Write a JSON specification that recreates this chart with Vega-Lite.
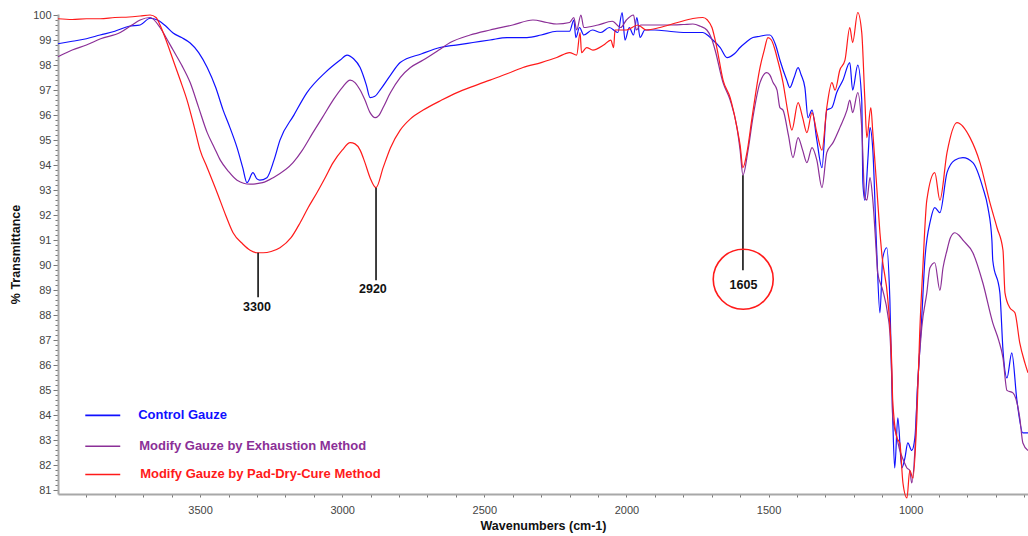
{
  "$schema": "https://vega.github.io/schema/vega-lite/v6.json",
  "width": 970,
  "height": 480,
  "autosize": {"type": "none"},
  "padding": {"left": 58, "top": 14, "right": 0, "bottom": 42},
  "background": "white",
  "config": {
    "view": {"stroke": null},
    "font": "Liberation Sans",
    "axis": {"grid": false, "labelFont": "Liberation Sans", "titleFont": "Liberation Sans", "labelColor": "#444", "titleColor": "#111", "domainColor": "#a8a8a8", "domainWidth": 2, "tickColor": "#777", "labelFontSize": 11, "titleFontSize": 12.5, "titleFontWeight": "bold"}
  },
  "datasets": {
    "spectra": [
      {"series": "Control", "wn": 4000, "T": 98.85}, {"series": "Control", "wn": 3950, "T": 98.95}, {"series": "Control", "wn": 3900, "T": 99.05}, {"series": "Control", "wn": 3852, "T": 99.2}, {"series": "Control", "wn": 3800, "T": 99.35}, {"series": "Control", "wn": 3750, "T": 99.55}, {"series": "Control", "wn": 3711, "T": 99.6}, {"series": "Control", "wn": 3676, "T": 99.87}, {"series": "Control", "wn": 3650, "T": 99.8}, {"series": "Control", "wn": 3620, "T": 99.55}, {"series": "Control", "wn": 3595, "T": 99.28}, {"series": "Control", "wn": 3565, "T": 99.1}, {"series": "Control", "wn": 3535, "T": 98.88}, {"series": "Control", "wn": 3505, "T": 98.5}, {"series": "Control", "wn": 3475, "T": 97.9}, {"series": "Control", "wn": 3445, "T": 97.1}, {"series": "Control", "wn": 3419, "T": 96.2}, {"series": "Control", "wn": 3395, "T": 95.5}, {"series": "Control", "wn": 3370, "T": 94.7}, {"series": "Control", "wn": 3350, "T": 93.9}, {"series": "Control", "wn": 3335, "T": 93.3}, {"series": "Control", "wn": 3314, "T": 93.7}, {"series": "Control", "wn": 3300, "T": 93.45}, {"series": "Control", "wn": 3290, "T": 93.4}, {"series": "Control", "wn": 3265, "T": 93.5}, {"series": "Control", "wn": 3240, "T": 94.2}, {"series": "Control", "wn": 3219, "T": 95.0}, {"series": "Control", "wn": 3170, "T": 96.0}, {"series": "Control", "wn": 3124, "T": 96.9}, {"series": "Control", "wn": 3060, "T": 97.7}, {"series": "Control", "wn": 3007, "T": 98.2}, {"series": "Control", "wn": 2983, "T": 98.4}, {"series": "Control", "wn": 2960, "T": 98.25}, {"series": "Control", "wn": 2937, "T": 97.9}, {"series": "Control", "wn": 2915, "T": 97.2}, {"series": "Control", "wn": 2902, "T": 96.7}, {"series": "Control", "wn": 2885, "T": 96.75}, {"series": "Control", "wn": 2867, "T": 97.0}, {"series": "Control", "wn": 2830, "T": 97.6}, {"series": "Control", "wn": 2796, "T": 98.1}, {"series": "Control", "wn": 2720, "T": 98.45}, {"series": "Control", "wn": 2656, "T": 98.7}, {"series": "Control", "wn": 2600, "T": 98.8}, {"series": "Control", "wn": 2540, "T": 98.9}, {"series": "Control", "wn": 2480, "T": 99.0}, {"series": "Control", "wn": 2420, "T": 99.1}, {"series": "Control", "wn": 2350, "T": 99.1}, {"series": "Control", "wn": 2300, "T": 99.2}, {"series": "Control", "wn": 2245, "T": 99.35}, {"series": "Control", "wn": 2200, "T": 99.35}, {"series": "Control", "wn": 2185, "T": 99.8}, {"series": "Control", "wn": 2178, "T": 99.1}, {"series": "Control", "wn": 2165, "T": 99.5}, {"series": "Control", "wn": 2150, "T": 99.2}, {"series": "Control", "wn": 2120, "T": 99.4}, {"series": "Control", "wn": 2090, "T": 99.3}, {"series": "Control", "wn": 2060, "T": 99.5}, {"series": "Control", "wn": 2030, "T": 99.3}, {"series": "Control", "wn": 2015, "T": 100.1}, {"series": "Control", "wn": 2005, "T": 99.0}, {"series": "Control", "wn": 1990, "T": 99.5}, {"series": "Control", "wn": 1975, "T": 99.2}, {"series": "Control", "wn": 1963, "T": 99.9}, {"series": "Control", "wn": 1952, "T": 99.1}, {"series": "Control", "wn": 1935, "T": 99.4}, {"series": "Control", "wn": 1900, "T": 99.4}, {"series": "Control", "wn": 1850, "T": 99.35}, {"series": "Control", "wn": 1800, "T": 99.3}, {"series": "Control", "wn": 1760, "T": 99.3}, {"series": "Control", "wn": 1731, "T": 99.3}, {"series": "Control", "wn": 1710, "T": 99.15}, {"series": "Control", "wn": 1696, "T": 99.0}, {"series": "Control", "wn": 1670, "T": 98.7}, {"series": "Control", "wn": 1646, "T": 98.3}, {"series": "Control", "wn": 1620, "T": 98.45}, {"series": "Control", "wn": 1600, "T": 98.7}, {"series": "Control", "wn": 1580, "T": 98.9}, {"series": "Control", "wn": 1555, "T": 99.1}, {"series": "Control", "wn": 1530, "T": 99.15}, {"series": "Control", "wn": 1506, "T": 99.2}, {"series": "Control", "wn": 1495, "T": 99.2}, {"series": "Control", "wn": 1475, "T": 98.8}, {"series": "Control", "wn": 1460, "T": 98.2}, {"series": "Control", "wn": 1436, "T": 97.4}, {"series": "Control", "wn": 1425, "T": 97.1}, {"series": "Control", "wn": 1410, "T": 97.5}, {"series": "Control", "wn": 1396, "T": 97.9}, {"series": "Control", "wn": 1385, "T": 97.6}, {"series": "Control", "wn": 1372, "T": 97.1}, {"series": "Control", "wn": 1361, "T": 95.9}, {"series": "Control", "wn": 1347, "T": 96.2}, {"series": "Control", "wn": 1330, "T": 95.0}, {"series": "Control", "wn": 1312, "T": 93.9}, {"series": "Control", "wn": 1295, "T": 96.2}, {"series": "Control", "wn": 1277, "T": 96.3}, {"series": "Control", "wn": 1260, "T": 96.9}, {"series": "Control", "wn": 1238, "T": 97.4}, {"series": "Control", "wn": 1214, "T": 98.1}, {"series": "Control", "wn": 1204, "T": 97.0}, {"series": "Control", "wn": 1186, "T": 98.0}, {"series": "Control", "wn": 1172, "T": 96.6}, {"series": "Control", "wn": 1168, "T": 93.3}, {"series": "Control", "wn": 1161, "T": 92.6}, {"series": "Control", "wn": 1150, "T": 94.3}, {"series": "Control", "wn": 1143, "T": 95.5}, {"series": "Control", "wn": 1133, "T": 94.6}, {"series": "Control", "wn": 1119, "T": 90.5}, {"series": "Control", "wn": 1108, "T": 88.1}, {"series": "Control", "wn": 1098, "T": 90.3}, {"series": "Control", "wn": 1084, "T": 90.7}, {"series": "Control", "wn": 1073, "T": 88.6}, {"series": "Control", "wn": 1063, "T": 83.9}, {"series": "Control", "wn": 1056, "T": 81.9}, {"series": "Control", "wn": 1045, "T": 83.9}, {"series": "Control", "wn": 1031, "T": 81.9}, {"series": "Control", "wn": 1020, "T": 82.3}, {"series": "Control", "wn": 1010, "T": 82.9}, {"series": "Control", "wn": 996, "T": 82.6}, {"series": "Control", "wn": 985, "T": 83.1}, {"series": "Control", "wn": 975, "T": 85.3}, {"series": "Control", "wn": 961, "T": 87.9}, {"series": "Control", "wn": 950, "T": 90.2}, {"series": "Control", "wn": 930, "T": 91.8}, {"series": "Control", "wn": 915, "T": 92.3}, {"series": "Control", "wn": 897, "T": 92.1}, {"series": "Control", "wn": 872, "T": 93.7}, {"series": "Control", "wn": 845, "T": 94.2}, {"series": "Control", "wn": 816, "T": 94.3}, {"series": "Control", "wn": 781, "T": 94.1}, {"series": "Control", "wn": 746, "T": 93.1}, {"series": "Control", "wn": 728, "T": 92.3}, {"series": "Control", "wn": 714, "T": 91.0}, {"series": "Control", "wn": 711, "T": 90.2}, {"series": "Control", "wn": 686, "T": 88.9}, {"series": "Control", "wn": 675, "T": 86.6}, {"series": "Control", "wn": 661, "T": 85.5}, {"series": "Control", "wn": 644, "T": 86.5}, {"series": "Control", "wn": 626, "T": 84.6}, {"series": "Control", "wn": 605, "T": 83.3}, {"series": "Control", "wn": 587, "T": 83.3},

      {"series": "Exhaustion", "wn": 4000, "T": 98.33}, {"series": "Exhaustion", "wn": 3950, "T": 98.6}, {"series": "Exhaustion", "wn": 3900, "T": 98.8}, {"series": "Exhaustion", "wn": 3850, "T": 99.05}, {"series": "Exhaustion", "wn": 3781, "T": 99.3}, {"series": "Exhaustion", "wn": 3740, "T": 99.6}, {"series": "Exhaustion", "wn": 3711, "T": 99.8}, {"series": "Exhaustion", "wn": 3676, "T": 99.9}, {"series": "Exhaustion", "wn": 3641, "T": 99.5}, {"series": "Exhaustion", "wn": 3620, "T": 99.1}, {"series": "Exhaustion", "wn": 3595, "T": 98.6}, {"series": "Exhaustion", "wn": 3565, "T": 98.0}, {"series": "Exhaustion", "wn": 3535, "T": 97.3}, {"series": "Exhaustion", "wn": 3505, "T": 96.3}, {"series": "Exhaustion", "wn": 3475, "T": 95.3}, {"series": "Exhaustion", "wn": 3450, "T": 94.7}, {"series": "Exhaustion", "wn": 3429, "T": 94.2}, {"series": "Exhaustion", "wn": 3400, "T": 93.75}, {"series": "Exhaustion", "wn": 3370, "T": 93.4}, {"series": "Exhaustion", "wn": 3324, "T": 93.24}, {"series": "Exhaustion", "wn": 3280, "T": 93.3}, {"series": "Exhaustion", "wn": 3243, "T": 93.5}, {"series": "Exhaustion", "wn": 3173, "T": 94.1}, {"series": "Exhaustion", "wn": 3140, "T": 94.6}, {"series": "Exhaustion", "wn": 3103, "T": 95.3}, {"series": "Exhaustion", "wn": 3070, "T": 95.9}, {"series": "Exhaustion", "wn": 3032, "T": 96.6}, {"series": "Exhaustion", "wn": 3000, "T": 97.1}, {"series": "Exhaustion", "wn": 2972, "T": 97.4}, {"series": "Exhaustion", "wn": 2955, "T": 97.3}, {"series": "Exhaustion", "wn": 2937, "T": 97.0}, {"series": "Exhaustion", "wn": 2920, "T": 96.6}, {"series": "Exhaustion", "wn": 2902, "T": 96.1}, {"series": "Exhaustion", "wn": 2884, "T": 95.9}, {"series": "Exhaustion", "wn": 2870, "T": 96.0}, {"series": "Exhaustion", "wn": 2856, "T": 96.3}, {"series": "Exhaustion", "wn": 2830, "T": 96.9}, {"series": "Exhaustion", "wn": 2796, "T": 97.5}, {"series": "Exhaustion", "wn": 2760, "T": 97.9}, {"series": "Exhaustion", "wn": 2715, "T": 98.2}, {"series": "Exhaustion", "wn": 2660, "T": 98.6}, {"series": "Exhaustion", "wn": 2620, "T": 98.9}, {"series": "Exhaustion", "wn": 2550, "T": 99.2}, {"series": "Exhaustion", "wn": 2480, "T": 99.4}, {"series": "Exhaustion", "wn": 2400, "T": 99.6}, {"series": "Exhaustion", "wn": 2329, "T": 99.8}, {"series": "Exhaustion", "wn": 2280, "T": 99.7}, {"series": "Exhaustion", "wn": 2245, "T": 99.64}, {"series": "Exhaustion", "wn": 2200, "T": 99.7}, {"series": "Exhaustion", "wn": 2185, "T": 99.9}, {"series": "Exhaustion", "wn": 2175, "T": 99.4}, {"series": "Exhaustion", "wn": 2160, "T": 100.0}, {"series": "Exhaustion", "wn": 2150, "T": 99.5}, {"series": "Exhaustion", "wn": 2100, "T": 99.6}, {"series": "Exhaustion", "wn": 2050, "T": 99.75}, {"series": "Exhaustion", "wn": 2020, "T": 99.5}, {"series": "Exhaustion", "wn": 2000, "T": 99.8}, {"series": "Exhaustion", "wn": 1975, "T": 100.0}, {"series": "Exhaustion", "wn": 1965, "T": 99.4}, {"series": "Exhaustion", "wn": 1950, "T": 99.6}, {"series": "Exhaustion", "wn": 1900, "T": 99.6}, {"series": "Exhaustion", "wn": 1850, "T": 99.6}, {"series": "Exhaustion", "wn": 1800, "T": 99.62}, {"series": "Exhaustion", "wn": 1766, "T": 99.64}, {"series": "Exhaustion", "wn": 1740, "T": 99.55}, {"series": "Exhaustion", "wn": 1717, "T": 99.4}, {"series": "Exhaustion", "wn": 1700, "T": 99.05}, {"series": "Exhaustion", "wn": 1688, "T": 98.6}, {"series": "Exhaustion", "wn": 1660, "T": 97.3}, {"series": "Exhaustion", "wn": 1635, "T": 96.6}, {"series": "Exhaustion", "wn": 1611, "T": 95.5}, {"series": "Exhaustion", "wn": 1600, "T": 94.6}, {"series": "Exhaustion", "wn": 1590, "T": 93.6}, {"series": "Exhaustion", "wn": 1572, "T": 94.6}, {"series": "Exhaustion", "wn": 1555, "T": 95.9}, {"series": "Exhaustion", "wn": 1530, "T": 97.3}, {"series": "Exhaustion", "wn": 1506, "T": 97.7}, {"series": "Exhaustion", "wn": 1495, "T": 97.6}, {"series": "Exhaustion", "wn": 1484, "T": 97.3}, {"series": "Exhaustion", "wn": 1470, "T": 97.0}, {"series": "Exhaustion", "wn": 1460, "T": 96.3}, {"series": "Exhaustion", "wn": 1449, "T": 96.2}, {"series": "Exhaustion", "wn": 1430, "T": 95.2}, {"series": "Exhaustion", "wn": 1414, "T": 94.3}, {"series": "Exhaustion", "wn": 1396, "T": 95.1}, {"series": "Exhaustion", "wn": 1380, "T": 94.6}, {"series": "Exhaustion", "wn": 1365, "T": 94.1}, {"series": "Exhaustion", "wn": 1347, "T": 94.7}, {"series": "Exhaustion", "wn": 1330, "T": 94.2}, {"series": "Exhaustion", "wn": 1312, "T": 93.1}, {"series": "Exhaustion", "wn": 1295, "T": 94.5}, {"series": "Exhaustion", "wn": 1273, "T": 94.9}, {"series": "Exhaustion", "wn": 1249, "T": 95.5}, {"series": "Exhaustion", "wn": 1224, "T": 96.2}, {"series": "Exhaustion", "wn": 1214, "T": 96.6}, {"series": "Exhaustion", "wn": 1204, "T": 96.1}, {"series": "Exhaustion", "wn": 1186, "T": 96.9}, {"series": "Exhaustion", "wn": 1172, "T": 95.5}, {"series": "Exhaustion", "wn": 1161, "T": 92.7}, {"series": "Exhaustion", "wn": 1154, "T": 92.6}, {"series": "Exhaustion", "wn": 1143, "T": 93.5}, {"series": "Exhaustion", "wn": 1133, "T": 92.6}, {"series": "Exhaustion", "wn": 1119, "T": 90.2}, {"series": "Exhaustion", "wn": 1116, "T": 89.7}, {"series": "Exhaustion", "wn": 1098, "T": 89.0}, {"series": "Exhaustion", "wn": 1080, "T": 88.0}, {"series": "Exhaustion", "wn": 1073, "T": 87.3}, {"series": "Exhaustion", "wn": 1066, "T": 85.3}, {"series": "Exhaustion", "wn": 1063, "T": 83.9}, {"series": "Exhaustion", "wn": 1050, "T": 83.2}, {"series": "Exhaustion", "wn": 1038, "T": 82.6}, {"series": "Exhaustion", "wn": 1025, "T": 82.2}, {"series": "Exhaustion", "wn": 1013, "T": 81.9}, {"series": "Exhaustion", "wn": 1003, "T": 81.8}, {"series": "Exhaustion", "wn": 996, "T": 81.3}, {"series": "Exhaustion", "wn": 985, "T": 82.6}, {"series": "Exhaustion", "wn": 975, "T": 85.3}, {"series": "Exhaustion", "wn": 961, "T": 87.5}, {"series": "Exhaustion", "wn": 943, "T": 88.9}, {"series": "Exhaustion", "wn": 932, "T": 89.9}, {"series": "Exhaustion", "wn": 915, "T": 90.1}, {"series": "Exhaustion", "wn": 897, "T": 89.0}, {"series": "Exhaustion", "wn": 886, "T": 89.9}, {"series": "Exhaustion", "wn": 872, "T": 90.6}, {"series": "Exhaustion", "wn": 860, "T": 91.1}, {"series": "Exhaustion", "wn": 844, "T": 91.3}, {"series": "Exhaustion", "wn": 830, "T": 91.2}, {"series": "Exhaustion", "wn": 816, "T": 91.0}, {"series": "Exhaustion", "wn": 781, "T": 90.5}, {"series": "Exhaustion", "wn": 746, "T": 89.3}, {"series": "Exhaustion", "wn": 711, "T": 87.7}, {"series": "Exhaustion", "wn": 690, "T": 87.0}, {"series": "Exhaustion", "wn": 675, "T": 86.3}, {"series": "Exhaustion", "wn": 661, "T": 85.0}, {"series": "Exhaustion", "wn": 640, "T": 84.9}, {"series": "Exhaustion", "wn": 616, "T": 83.9}, {"series": "Exhaustion", "wn": 605, "T": 82.9}, {"series": "Exhaustion", "wn": 587, "T": 82.6},

      {"series": "PadDryCure", "wn": 4000, "T": 99.85}, {"series": "PadDryCure", "wn": 3950, "T": 99.82}, {"series": "PadDryCure", "wn": 3900, "T": 99.85}, {"series": "PadDryCure", "wn": 3852, "T": 99.85}, {"series": "PadDryCure", "wn": 3800, "T": 99.9}, {"series": "PadDryCure", "wn": 3750, "T": 99.92}, {"series": "PadDryCure", "wn": 3711, "T": 99.96}, {"series": "PadDryCure", "wn": 3676, "T": 100.0}, {"series": "PadDryCure", "wn": 3655, "T": 99.9}, {"series": "PadDryCure", "wn": 3641, "T": 99.6}, {"series": "PadDryCure", "wn": 3620, "T": 99.0}, {"series": "PadDryCure", "wn": 3595, "T": 98.2}, {"series": "PadDryCure", "wn": 3570, "T": 97.4}, {"series": "PadDryCure", "wn": 3546, "T": 96.6}, {"series": "PadDryCure", "wn": 3520, "T": 95.5}, {"series": "PadDryCure", "wn": 3500, "T": 94.6}, {"series": "PadDryCure", "wn": 3475, "T": 93.9}, {"series": "PadDryCure", "wn": 3440, "T": 92.9}, {"series": "PadDryCure", "wn": 3410, "T": 92.0}, {"series": "PadDryCure", "wn": 3384, "T": 91.3}, {"series": "PadDryCure", "wn": 3350, "T": 90.85}, {"series": "PadDryCure", "wn": 3324, "T": 90.6}, {"series": "PadDryCure", "wn": 3300, "T": 90.5}, {"series": "PadDryCure", "wn": 3278, "T": 90.5}, {"series": "PadDryCure", "wn": 3250, "T": 90.55}, {"series": "PadDryCure", "wn": 3219, "T": 90.7}, {"series": "PadDryCure", "wn": 3180, "T": 91.1}, {"series": "PadDryCure", "wn": 3148, "T": 91.7}, {"series": "PadDryCure", "wn": 3120, "T": 92.3}, {"series": "PadDryCure", "wn": 3089, "T": 92.9}, {"series": "PadDryCure", "wn": 3060, "T": 93.5}, {"series": "PadDryCure", "wn": 3032, "T": 94.1}, {"series": "PadDryCure", "wn": 3000, "T": 94.6}, {"series": "PadDryCure", "wn": 2972, "T": 94.9}, {"series": "PadDryCure", "wn": 2955, "T": 94.85}, {"series": "PadDryCure", "wn": 2937, "T": 94.6}, {"series": "PadDryCure", "wn": 2920, "T": 94.1}, {"series": "PadDryCure", "wn": 2902, "T": 93.5}, {"series": "PadDryCure", "wn": 2881, "T": 93.1}, {"series": "PadDryCure", "wn": 2856, "T": 93.9}, {"series": "PadDryCure", "wn": 2830, "T": 94.7}, {"series": "PadDryCure", "wn": 2796, "T": 95.4}, {"series": "PadDryCure", "wn": 2760, "T": 95.85}, {"series": "PadDryCure", "wn": 2715, "T": 96.2}, {"series": "PadDryCure", "wn": 2650, "T": 96.6}, {"series": "PadDryCure", "wn": 2596, "T": 96.9}, {"series": "PadDryCure", "wn": 2540, "T": 97.15}, {"series": "PadDryCure", "wn": 2480, "T": 97.4}, {"series": "PadDryCure", "wn": 2420, "T": 97.65}, {"series": "PadDryCure", "wn": 2364, "T": 97.9}, {"series": "PadDryCure", "wn": 2300, "T": 98.1}, {"series": "PadDryCure", "wn": 2245, "T": 98.3}, {"series": "PadDryCure", "wn": 2200, "T": 98.5}, {"series": "PadDryCure", "wn": 2175, "T": 98.4}, {"series": "PadDryCure", "wn": 2163, "T": 99.3}, {"series": "PadDryCure", "wn": 2158, "T": 98.5}, {"series": "PadDryCure", "wn": 2140, "T": 98.7}, {"series": "PadDryCure", "wn": 2118, "T": 98.6}, {"series": "PadDryCure", "wn": 2080, "T": 98.8}, {"series": "PadDryCure", "wn": 2055, "T": 99.0}, {"series": "PadDryCure", "wn": 2045, "T": 98.7}, {"series": "PadDryCure", "wn": 2040, "T": 99.4}, {"series": "PadDryCure", "wn": 2000, "T": 99.4}, {"series": "PadDryCure", "wn": 1960, "T": 99.6}, {"series": "PadDryCure", "wn": 1930, "T": 99.4}, {"series": "PadDryCure", "wn": 1882, "T": 99.5}, {"series": "PadDryCure", "wn": 1820, "T": 99.7}, {"series": "PadDryCure", "wn": 1766, "T": 99.86}, {"series": "PadDryCure", "wn": 1731, "T": 99.9}, {"series": "PadDryCure", "wn": 1715, "T": 99.8}, {"series": "PadDryCure", "wn": 1699, "T": 99.5}, {"series": "PadDryCure", "wn": 1682, "T": 98.7}, {"series": "PadDryCure", "wn": 1660, "T": 97.4}, {"series": "PadDryCure", "wn": 1635, "T": 96.7}, {"series": "PadDryCure", "wn": 1611, "T": 95.5}, {"series": "PadDryCure", "wn": 1600, "T": 94.8}, {"series": "PadDryCure", "wn": 1590, "T": 93.9}, {"series": "PadDryCure", "wn": 1576, "T": 94.5}, {"series": "PadDryCure", "wn": 1558, "T": 95.9}, {"series": "PadDryCure", "wn": 1530, "T": 97.9}, {"series": "PadDryCure", "wn": 1515, "T": 98.6}, {"series": "PadDryCure", "wn": 1502, "T": 99.1}, {"series": "PadDryCure", "wn": 1490, "T": 99.0}, {"series": "PadDryCure", "wn": 1477, "T": 98.6}, {"series": "PadDryCure", "wn": 1470, "T": 98.3}, {"series": "PadDryCure", "wn": 1449, "T": 97.3}, {"series": "PadDryCure", "wn": 1430, "T": 96.0}, {"series": "PadDryCure", "wn": 1418, "T": 95.4}, {"series": "PadDryCure", "wn": 1396, "T": 96.5}, {"series": "PadDryCure", "wn": 1380, "T": 95.9}, {"series": "PadDryCure", "wn": 1365, "T": 95.3}, {"series": "PadDryCure", "wn": 1347, "T": 96.1}, {"series": "PadDryCure", "wn": 1330, "T": 95.3}, {"series": "PadDryCure", "wn": 1312, "T": 94.6}, {"series": "PadDryCure", "wn": 1295, "T": 96.3}, {"series": "PadDryCure", "wn": 1277, "T": 97.3}, {"series": "PadDryCure", "wn": 1266, "T": 97.0}, {"series": "PadDryCure", "wn": 1249, "T": 97.8}, {"series": "PadDryCure", "wn": 1231, "T": 98.2}, {"series": "PadDryCure", "wn": 1214, "T": 99.5}, {"series": "PadDryCure", "wn": 1204, "T": 98.9}, {"series": "PadDryCure", "wn": 1186, "T": 100.1}, {"series": "PadDryCure", "wn": 1172, "T": 99.3}, {"series": "PadDryCure", "wn": 1161, "T": 96.6}, {"series": "PadDryCure", "wn": 1154, "T": 95.1}, {"series": "PadDryCure", "wn": 1140, "T": 96.3}, {"series": "PadDryCure", "wn": 1133, "T": 95.3}, {"series": "PadDryCure", "wn": 1119, "T": 93.1}, {"series": "PadDryCure", "wn": 1108, "T": 91.3}, {"series": "PadDryCure", "wn": 1101, "T": 90.4}, {"series": "PadDryCure", "wn": 1080, "T": 88.6}, {"series": "PadDryCure", "wn": 1066, "T": 85.9}, {"series": "PadDryCure", "wn": 1063, "T": 84.6}, {"series": "PadDryCure", "wn": 1048, "T": 83.1}, {"series": "PadDryCure", "wn": 1038, "T": 82.9}, {"series": "PadDryCure", "wn": 1027, "T": 81.3}, {"series": "PadDryCure", "wn": 1013, "T": 80.7}, {"series": "PadDryCure", "wn": 1003, "T": 81.8}, {"series": "PadDryCure", "wn": 992, "T": 81.5}, {"series": "PadDryCure", "wn": 978, "T": 83.9}, {"series": "PadDryCure", "wn": 968, "T": 87.3}, {"series": "PadDryCure", "wn": 957, "T": 89.9}, {"series": "PadDryCure", "wn": 943, "T": 92.6}, {"series": "PadDryCure", "wn": 915, "T": 93.7}, {"series": "PadDryCure", "wn": 897, "T": 92.6}, {"series": "PadDryCure", "wn": 872, "T": 94.5}, {"series": "PadDryCure", "wn": 837, "T": 95.7}, {"series": "PadDryCure", "wn": 791, "T": 95.1}, {"series": "PadDryCure", "wn": 756, "T": 94.1}, {"series": "PadDryCure", "wn": 721, "T": 92.5}, {"series": "PadDryCure", "wn": 696, "T": 91.5}, {"series": "PadDryCure", "wn": 675, "T": 90.6}, {"series": "PadDryCure", "wn": 668, "T": 88.9}, {"series": "PadDryCure", "wn": 651, "T": 88.3}, {"series": "PadDryCure", "wn": 633, "T": 88.1}, {"series": "PadDryCure", "wn": 616, "T": 86.9}, {"series": "PadDryCure", "wn": 598, "T": 86.1}, {"series": "PadDryCure", "wn": 587, "T": 85.7}
    ],
    "peaks": [
      {"label": "3300", "wn": 3296, "T": 90.5, "T2": 88.72, "labelWn": 3300, "labelT": 88.32},
      {"label": "2920", "wn": 2881, "T": 93.1, "T2": 89.4, "labelWn": 2892, "labelT": 89.04},
      {"label": "1605", "wn": 1590, "T": 93.6, "T2": 89.8, "labelWn": 1588, "labelT": 89.2}
    ],
    "circle": [{"wn": 1589, "T": 89.44}],
    "legend": [
      {"series": "Control", "name": "Control Gauze", "wn": 3904, "wn2": 3781, "T": 84.0, "textWn": 3718},
      {"series": "Exhaustion", "name": "Modify Gauze by  Exhaustion Method", "wn": 3904, "wn2": 3781, "T": 82.77, "textWn": 3714},
      {"series": "PadDryCure", "name": "Modify Gauze by Pad-Dry-Cure Method", "wn": 3904, "wn2": 3781, "T": 81.64, "textWn": 3711}
    ]
  },
  "layer": [
    {
      "data": {"name": "spectra"},
      "mark": {"type": "line", "strokeWidth": 1.2, "clip": false, "interpolate": "monotone"},
      "encoding": {
        "x": {
          "field": "wn", "type": "quantitative",
          "scale": {"domain": [587, 4000], "reverse": true, "nice": false, "zero": false},
          "axis": {
            "title": "Wavenumbers (cm-1)",
            "values": [3900, 3800, 3700, 3600, 3500, 3400, 3300, 3200, 3100, 3000, 2900, 2800, 2700, 2600, 2500, 2400, 2300, 2200, 2100, 2000, 1900, 1800, 1700, 1600, 1500, 1400, 1300, 1200, 1100, 1000, 900, 800, 700, 600],
            "tickCount": 1000,
            "format": "d",
            "labelExpr": "datum.value % 500 == 0 ? datum.label : ''",
            "labelOverlap": false,
            "labelBound": false,
            "labelFlush": false,
            "tickSize": 3,
            "labelPadding": 7,
            "titlePadding": 4
          }
        },
        "y": {
          "field": "T", "type": "quantitative",
          "scale": {"domain": [80.86, 100.04], "nice": false, "zero": false},
          "axis": {
            "title": "% Transmittance",
            "values": [81, 81.2, 81.4, 81.6, 81.8, 82, 82.2, 82.4, 82.6, 82.8, 83, 83.2, 83.4, 83.6, 83.8, 84, 84.2, 84.4, 84.6, 84.8, 85, 85.2, 85.4, 85.6, 85.8, 86, 86.2, 86.4, 86.6, 86.8, 87, 87.2, 87.4, 87.6, 87.8, 88, 88.2, 88.4, 88.6, 88.8, 89, 89.2, 89.4, 89.6, 89.8, 90, 90.2, 90.4, 90.6, 90.8, 91, 91.2, 91.4, 91.6, 91.8, 92, 92.2, 92.4, 92.6, 92.8, 93, 93.2, 93.4, 93.6, 93.8, 94, 94.2, 94.4, 94.6, 94.8, 95, 95.2, 95.4, 95.6, 95.8, 96, 96.2, 96.4, 96.6, 96.8, 97, 97.2, 97.4, 97.6, 97.8, 98, 98.2, 98.4, 98.6, 98.8, 99, 99.2, 99.4, 99.6, 99.8, 100],
            "tickCount": 1000,
            "labelExpr": "abs(datum.value - round(datum.value)) < 0.01 ? format(datum.value, 'd') : ''",
            "labelOverlap": false,
            "labelBound": false,
            "labelFlush": false,
            "tickSize": {"condition": {"test": "abs(datum.value - round(datum.value)) < 0.01", "value": 5}, "value": 3},
            "labelPadding": 2,
            "titlePadding": 10
          }
        },
        "color": {
          "field": "series", "type": "nominal",
          "scale": {"domain": ["Control", "Exhaustion", "PadDryCure"], "range": ["#1010ff", "#8B2F97", "#ff1a1a"]},
          "legend": null
        },
        "order": {"field": "wn", "sort": "descending"}
      }
    },
    {
      "data": {"name": "peaks"},
      "mark": {"type": "rule", "color": "#000000", "strokeWidth": 1.5},
      "encoding": {
        "x": {"field": "wn", "type": "quantitative"},
        "y": {"field": "T", "type": "quantitative"},
        "y2": {"field": "T2"}
      }
    },
    {
      "data": {"name": "peaks"},
      "mark": {"type": "text", "color": "#111111", "fontSize": 12.5, "fontWeight": "bold", "align": "center", "baseline": "middle"},
      "encoding": {
        "x": {"field": "labelWn", "type": "quantitative"},
        "y": {"field": "labelT", "type": "quantitative"},
        "text": {"field": "label", "type": "nominal"}
      }
    },
    {
      "data": {"name": "circle"},
      "mark": {"type": "point", "shape": "circle", "size": 3600, "filled": false, "stroke": "#ff1a1a", "strokeWidth": 1.6, "opacity": 1},
      "encoding": {
        "x": {"field": "wn", "type": "quantitative"},
        "y": {"field": "T", "type": "quantitative"}
      }
    },
    {
      "data": {"name": "legend"},
      "mark": {"type": "rule", "strokeWidth": 1.6},
      "encoding": {
        "x": {"field": "wn", "type": "quantitative"},
        "x2": {"field": "wn2"},
        "y": {"field": "T", "type": "quantitative"},
        "color": {"field": "series", "type": "nominal", "legend": null}
      }
    },
    {
      "data": {"name": "legend"},
      "mark": {"type": "text", "fontSize": 13, "fontWeight": "bold", "align": "left", "baseline": "middle"},
      "encoding": {
        "x": {"field": "textWn", "type": "quantitative"},
        "y": {"field": "T", "type": "quantitative"},
        "text": {"field": "name", "type": "nominal"},
        "color": {"field": "series", "type": "nominal", "legend": null}
      }
    }
  ]
}
